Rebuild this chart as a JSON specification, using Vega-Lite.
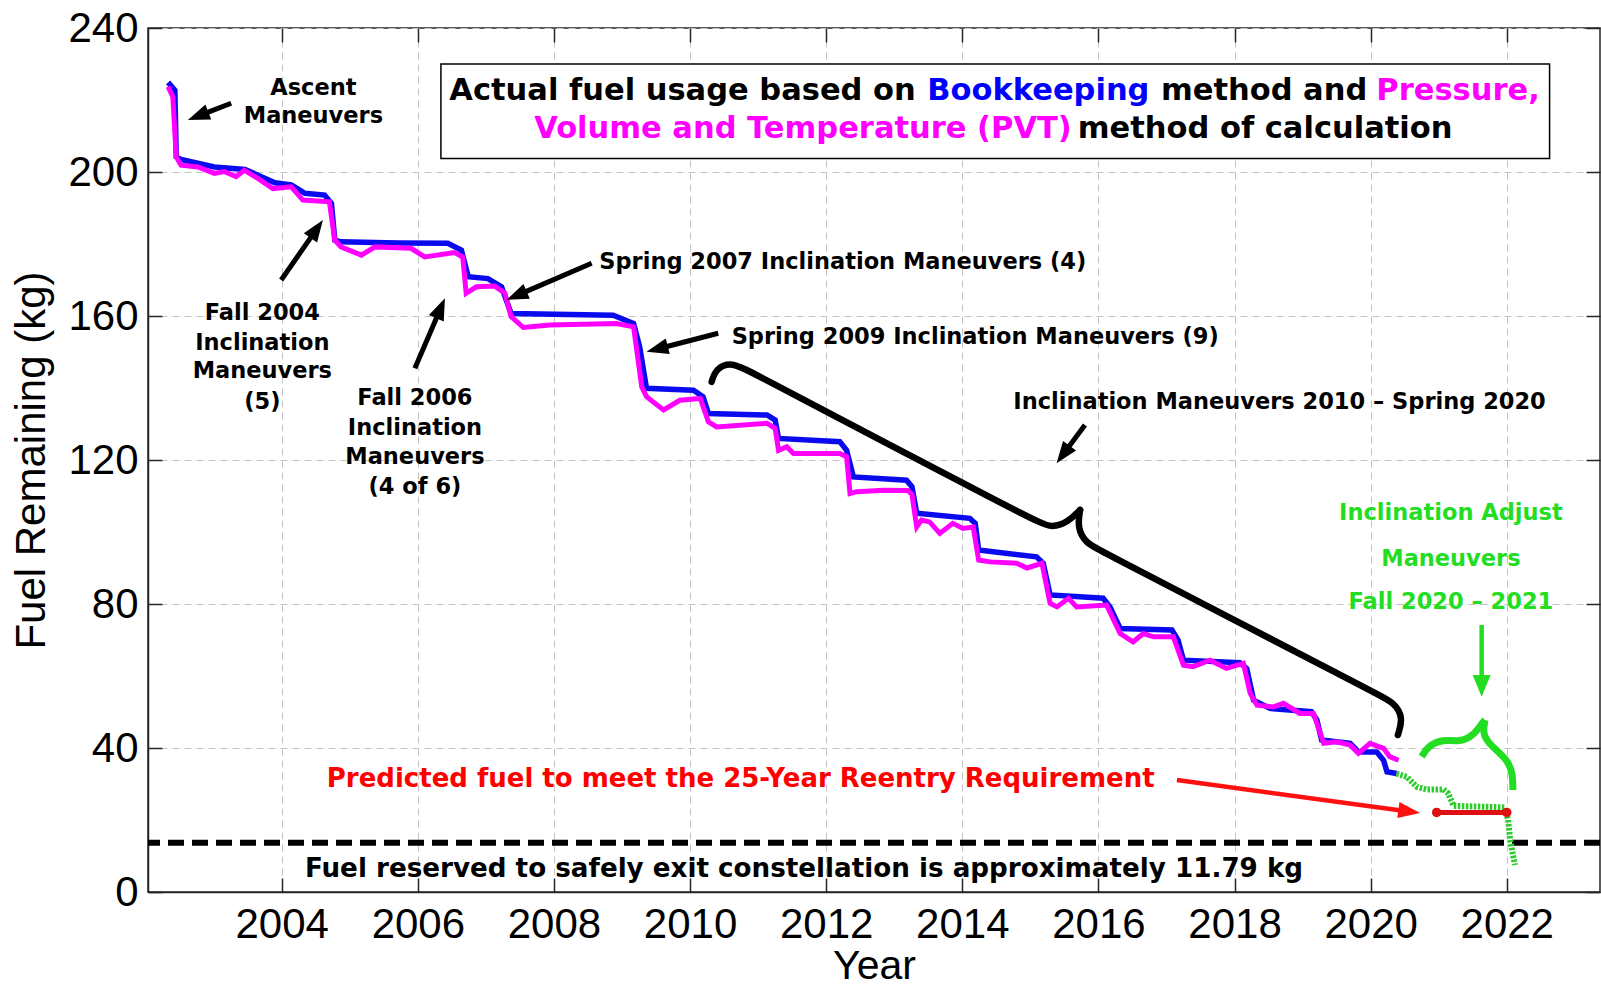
{
  "$schema": "https://vega.github.io/schema/vega-lite/v6.json",
  "width": 1452,
  "height": 864,
  "autosize": "none",
  "padding": {"left": 148, "top": 28, "right": 1, "bottom": 96},
  "background": "white",
  "datasets": {
    "bookkeeping": [
      {"year": 2002.33, "kg": 224.9}, {"year": 2002.43, "kg": 222.7}, {"year": 2002.45, "kg": 204.2}, {"year": 2002.52, "kg": 203.5},
      {"year": 2003.01, "kg": 201.4}, {"year": 2003.46, "kg": 200.7}, {"year": 2003.70, "kg": 198.7}, {"year": 2003.90, "kg": 197.0},
      {"year": 2004.14, "kg": 196.4}, {"year": 2004.34, "kg": 194.1}, {"year": 2004.63, "kg": 193.6}, {"year": 2004.73, "kg": 191.3},
      {"year": 2004.78, "kg": 181.1}, {"year": 2004.87, "kg": 180.6}, {"year": 2005.71, "kg": 180.3}, {"year": 2006.44, "kg": 180.2},
      {"year": 2006.64, "kg": 178.3}, {"year": 2006.74, "kg": 170.9}, {"year": 2007.03, "kg": 170.4}, {"year": 2007.23, "kg": 168.1},
      {"year": 2007.37, "kg": 160.7}, {"year": 2008.87, "kg": 160.2}, {"year": 2009.17, "kg": 157.9}, {"year": 2009.26, "kg": 151.4},
      {"year": 2009.36, "kg": 139.9}, {"year": 2010.05, "kg": 139.4}, {"year": 2010.19, "kg": 137.6}, {"year": 2010.27, "kg": 132.9},
      {"year": 2011.13, "kg": 132.5}, {"year": 2011.25, "kg": 131.1}, {"year": 2011.30, "kg": 126.0}, {"year": 2012.20, "kg": 125.1},
      {"year": 2012.30, "kg": 122.7}, {"year": 2012.40, "kg": 115.3}, {"year": 2013.18, "kg": 114.4}, {"year": 2013.26, "kg": 112.6},
      {"year": 2013.33, "kg": 105.2}, {"year": 2014.11, "kg": 103.8}, {"year": 2014.19, "kg": 102.4}, {"year": 2014.24, "kg": 95.0},
      {"year": 2015.09, "kg": 93.1}, {"year": 2015.19, "kg": 91.3}, {"year": 2015.29, "kg": 82.5}, {"year": 2016.07, "kg": 81.6},
      {"year": 2016.17, "kg": 79.2}, {"year": 2016.32, "kg": 73.2}, {"year": 2017.08, "kg": 72.8}, {"year": 2017.17, "kg": 70.0},
      {"year": 2017.25, "kg": 64.4}, {"year": 2018.08, "kg": 63.7}, {"year": 2018.18, "kg": 62.0}, {"year": 2018.28, "kg": 53.3},
      {"year": 2018.52, "kg": 51.0}, {"year": 2019.13, "kg": 50.1}, {"year": 2019.21, "kg": 47.8}, {"year": 2019.28, "kg": 42.2},
      {"year": 2019.70, "kg": 41.3}, {"year": 2019.82, "kg": 38.9}, {"year": 2020.09, "kg": 38.9}, {"year": 2020.19, "kg": 36.6},
      {"year": 2020.24, "kg": 33.4}, {"year": 2020.38, "kg": 32.9}
    ],
    "pvt": [
      {"year": 2002.33, "kg": 223.7}, {"year": 2002.40, "kg": 220.9}, {"year": 2002.45, "kg": 204.2}, {"year": 2002.52, "kg": 201.9},
      {"year": 2002.77, "kg": 201.4}, {"year": 2003.01, "kg": 199.6}, {"year": 2003.16, "kg": 200.1}, {"year": 2003.33, "kg": 198.7},
      {"year": 2003.45, "kg": 200.5}, {"year": 2003.65, "kg": 198.2}, {"year": 2003.87, "kg": 195.4}, {"year": 2004.14, "kg": 195.9},
      {"year": 2004.31, "kg": 192.2}, {"year": 2004.70, "kg": 191.7}, {"year": 2004.78, "kg": 181.1}, {"year": 2004.87, "kg": 179.2},
      {"year": 2005.17, "kg": 176.9}, {"year": 2005.37, "kg": 179.2}, {"year": 2005.90, "kg": 178.8}, {"year": 2006.10, "kg": 176.4},
      {"year": 2006.54, "kg": 177.6}, {"year": 2006.66, "kg": 176.4}, {"year": 2006.71, "kg": 166.3}, {"year": 2006.86, "kg": 168.1},
      {"year": 2007.13, "kg": 168.3}, {"year": 2007.28, "kg": 166.3}, {"year": 2007.37, "kg": 159.8}, {"year": 2007.55, "kg": 156.8},
      {"year": 2007.94, "kg": 157.5}, {"year": 2008.92, "kg": 157.9}, {"year": 2009.17, "kg": 157.0}, {"year": 2009.29, "kg": 140.3},
      {"year": 2009.36, "kg": 137.6}, {"year": 2009.61, "kg": 133.9}, {"year": 2009.85, "kg": 136.6}, {"year": 2010.15, "kg": 137.1},
      {"year": 2010.27, "kg": 130.6}, {"year": 2010.39, "kg": 129.2}, {"year": 2011.13, "kg": 130.2}, {"year": 2011.25, "kg": 128.8},
      {"year": 2011.30, "kg": 122.7}, {"year": 2011.42, "kg": 123.7}, {"year": 2011.52, "kg": 121.8}, {"year": 2012.20, "kg": 121.8},
      {"year": 2012.30, "kg": 120.9}, {"year": 2012.35, "kg": 110.7}, {"year": 2012.45, "kg": 111.2}, {"year": 2012.84, "kg": 111.6},
      {"year": 2013.20, "kg": 111.5}, {"year": 2013.26, "kg": 110.5}, {"year": 2013.33, "kg": 101.4}, {"year": 2013.40, "kg": 103.3},
      {"year": 2013.52, "kg": 102.8}, {"year": 2013.67, "kg": 99.6}, {"year": 2013.86, "kg": 102.4}, {"year": 2014.01, "kg": 101.0},
      {"year": 2014.16, "kg": 101.4}, {"year": 2014.24, "kg": 92.2}, {"year": 2014.41, "kg": 91.7}, {"year": 2014.80, "kg": 91.3},
      {"year": 2014.95, "kg": 90.0}, {"year": 2015.17, "kg": 91.3}, {"year": 2015.29, "kg": 80.2}, {"year": 2015.39, "kg": 79.2},
      {"year": 2015.56, "kg": 81.6}, {"year": 2015.68, "kg": 79.2}, {"year": 2016.12, "kg": 79.7}, {"year": 2016.32, "kg": 71.8},
      {"year": 2016.51, "kg": 69.5}, {"year": 2016.66, "kg": 71.8}, {"year": 2016.81, "kg": 70.9}, {"year": 2017.10, "kg": 70.9},
      {"year": 2017.25, "kg": 63.0}, {"year": 2017.39, "kg": 62.6}, {"year": 2017.64, "kg": 64.4}, {"year": 2017.88, "kg": 62.1},
      {"year": 2018.13, "kg": 63.5}, {"year": 2018.23, "kg": 55.2}, {"year": 2018.33, "kg": 51.9}, {"year": 2018.57, "kg": 51.4},
      {"year": 2018.72, "kg": 52.4}, {"year": 2018.96, "kg": 49.6}, {"year": 2019.16, "kg": 49.6}, {"year": 2019.31, "kg": 41.3},
      {"year": 2019.50, "kg": 41.7}, {"year": 2019.70, "kg": 40.8}, {"year": 2019.82, "kg": 38.5}, {"year": 2019.99, "kg": 41.3},
      {"year": 2020.19, "kg": 39.9}, {"year": 2020.28, "kg": 37.6}, {"year": 2020.41, "kg": 36.6}
    ],
    "predicted": [
      {"year": 2020.38, "kg": 32.9}, {"year": 2020.53, "kg": 32.0}, {"year": 2020.68, "kg": 29.2}, {"year": 2020.82, "kg": 28.5},
      {"year": 2021.07, "kg": 28.5}, {"year": 2021.14, "kg": 27.4}, {"year": 2021.22, "kg": 23.9}, {"year": 2021.66, "kg": 23.7},
      {"year": 2021.97, "kg": 23.5}, {"year": 2022.02, "kg": 20.0}, {"year": 2022.05, "kg": 14.4}, {"year": 2022.12, "kg": 7.5}
    ],
    "requirement": [{"year": 2020.97, "kg": 22.1}, {"year": 2022.0, "kg": 22.1}],
    "reserve": [{"kg": 13.7}],
    "brace": [
      {"part": "left", "i": 0, "year": 2010.317, "kg": 141.7},
      {"part": "left", "i": 1, "year": 2010.38, "kg": 145.5},
      {"part": "left", "i": 2, "year": 2010.616, "kg": 147.2},
      {"part": "left", "i": 3, "year": 2010.88, "kg": 144.6},
      {"part": "left", "i": 4, "year": 2015.07, "kg": 103.0},
      {"part": "left", "i": 5, "year": 2015.318, "kg": 101.1},
      {"part": "left", "i": 6, "year": 2015.553, "kg": 102.75},
      {"part": "left", "i": 7, "year": 2015.73, "kg": 106.1},
      {"part": "right", "i": 0, "year": 2015.73, "kg": 106.1},
      {"part": "right", "i": 1, "year": 2015.69, "kg": 101.1},
      {"part": "right", "i": 2, "year": 2015.82, "kg": 96.9},
      {"part": "right", "i": 3, "year": 2016.02, "kg": 94.9},
      {"part": "right", "i": 4, "year": 2020.066, "kg": 55.3},
      {"part": "right", "i": 5, "year": 2020.359, "kg": 52.5},
      {"part": "right", "i": 6, "year": 2020.477, "kg": 48.3},
      {"part": "right", "i": 7, "year": 2020.40, "kg": 43.6}
    ],
    "greenBrace": [
      {"part": "left", "i": 0, "year": 2020.75, "kg": 37.6},
      {"part": "left", "i": 1, "year": 2020.84, "kg": 40.5},
      {"part": "left", "i": 2, "year": 2021.06, "kg": 42.5},
      {"part": "left", "i": 3, "year": 2021.31, "kg": 41.6},
      {"part": "left", "i": 4, "year": 2021.52, "kg": 43.6},
      {"part": "left", "i": 5, "year": 2021.65, "kg": 47.2},
      {"part": "left", "i": 6, "year": 2021.68, "kg": 47.75},
      {"part": "right", "i": 0, "year": 2021.68, "kg": 47.75},
      {"part": "right", "i": 1, "year": 2021.64, "kg": 43.6},
      {"part": "right", "i": 2, "year": 2021.79, "kg": 40.25},
      {"part": "right", "i": 3, "year": 2022.02, "kg": 36.6},
      {"part": "right", "i": 4, "year": 2022.09, "kg": 32.5},
      {"part": "right", "i": 5, "year": 2022.09, "kg": 28.3}
    ],
    "blackArrows": [
      {"year": 2003.257, "kg": 219.09, "year2": 2002.882, "kg2": 216.37, "heading": 159.0},
      {"year": 2003.992, "kg": 170.01, "year2": 2004.446, "kg2": 182.33, "heading": -55.2},
      {"year": 2005.956, "kg": 145.48, "year2": 2006.288, "kg2": 160.09, "heading": -66.8},
      {"year": 2008.554, "kg": 174.64, "year2": 2007.560, "kg2": 166.55, "heading": 156.7},
      {"year": 2010.414, "kg": 155.21, "year2": 2009.631, "kg2": 151.40, "heading": 165.6},
      {"year": 2015.802, "kg": 129.73, "year2": 2015.551, "kg2": 123.32, "heading": 126.5}
    ],
    "redArrow": [{"year": 2017.154, "kg": 31.09, "year2": 2020.449, "kg2": 22.64, "heading": 7.7}],
    "greenArrow": [{"year": 2021.631, "kg": 74.16, "year2": 2021.631, "kg2": 59.52, "heading": 90}],
    "notesCenter": [
      {"label": "Ascent", "year": 2004.465, "kg": 223.4},
      {"label": "Maneuvers", "year": 2004.465, "kg": 215.46},
      {"label": "Fall 2004", "year": 2003.715, "kg": 160.74},
      {"label": "Inclination", "year": 2003.715, "kg": 152.6},
      {"label": "Maneuvers", "year": 2003.715, "kg": 144.82},
      {"label": "(5)", "year": 2003.715, "kg": 136.03},
      {"label": "Fall 2006", "year": 2005.957, "kg": 137.13},
      {"label": "Inclination", "year": 2005.957, "kg": 128.79},
      {"label": "Maneuvers", "year": 2005.957, "kg": 120.94},
      {"label": "(4 of 6)", "year": 2005.957, "kg": 112.6}
    ],
    "notesLeft": [
      {"label": "Spring 2007 Inclination Maneuvers (4)", "year": 2008.666, "kg": 175.09},
      {"label": "Spring 2009 Inclination Maneuvers (9)", "year": 2010.611, "kg": 154.27},
      {"label": "Inclination Maneuvers 2010 – Spring 2020", "year": 2014.749, "kg": 136.2}
    ],
    "greenNotes": [
      {"label": "Inclination Adjust", "year": 2021.179, "kg": 105.39},
      {"label": "Maneuvers", "year": 2021.179, "kg": 92.62},
      {"label": "Fall 2020 – 2021", "year": 2021.179, "kg": 80.43}
    ],
    "redNote": [{"label": "Predicted fuel to meet the 25-Year Reentry Requirement", "year": 2010.744, "kg": 31.35}],
    "reserveNote": [{"label": "Fuel reserved to safely exit constellation is approximately 11.79 kg", "year": 2011.674, "kg": 6.38}],
    "titleBox": [{"year": 2006.339, "year2": 2022.629, "kg": 229.97, "kg2": 203.78}],
    "titleBlack": [
      {"label": "Actual fuel usage based on", "year": 2009.889, "kg": 222.6},
      {"label": "method and", "year": 2018.434, "kg": 222.6},
      {"label": "method of calculation", "year": 2018.449, "kg": 211.9}
    ],
    "titleBlue": [{"label": "Bookkeeping", "year": 2015.118, "kg": 222.6}],
    "titleMagenta": [
      {"label": "Pressure,", "year": 2021.284, "kg": 222.6},
      {"label": "Volume and Temperature (PVT)", "year": 2011.659, "kg": 211.9}
    ]
  },
  "layer": [
    {
      "layer": [
        {
          "data": {"name": "reserve"},
          "mark": {"type": "rule", "color": "#000000", "strokeWidth": 6, "strokeDash": [16, 8]},
          "encoding": {
            "y": {
              "field": "kg", "type": "quantitative",
              "scale": {"domain": [0, 240], "nice": false, "zero": false},
              "axis": {"values": [0, 40, 80, 120, 160, 200, 240], "title": "Fuel Remaining (kg)", "labelFontSize": 42, "titleFontSize": 42, "labelPadding": 24, "titlePadding": 14, "labelFlush": false, "grid": true}
            }
          }
        },
        {
          "data": {"name": "bookkeeping"},
          "mark": {"type": "line", "color": "#0a0aee", "strokeWidth": 5.5},
          "encoding": {
            "x": {
              "field": "year", "type": "quantitative",
              "scale": {"domain": [2002.035, 2023.37], "nice": false, "zero": false},
              "axis": {"values": [2004, 2006, 2008, 2010, 2012, 2014, 2016, 2018, 2020, 2022], "format": "d", "title": "Year", "labelFontSize": 42, "titleFontSize": 41, "labelPadding": 26, "titlePadding": 1, "labelFlush": false, "labelOverlap": false, "grid": true}
            },
            "y": {"field": "kg", "type": "quantitative"}
          }
        },
        {
          "data": {"name": "pvt"},
          "mark": {"type": "line", "color": "#ff00ff", "strokeWidth": 5},
          "encoding": {"x": {"field": "year", "type": "quantitative"}, "y": {"field": "kg", "type": "quantitative"}}
        },
        {
          "data": {"name": "predicted"},
          "mark": {"type": "line", "color": "#2ccc2c", "strokeWidth": 6, "strokeDash": [2.5, 1.5]},
          "encoding": {"x": {"field": "year", "type": "quantitative"}, "y": {"field": "kg", "type": "quantitative"}}
        },
        {
          "data": {"name": "requirement"},
          "mark": {"type": "line", "color": "#dd1111", "strokeWidth": 5, "point": {"filled": true, "color": "#dd1111", "size": 90}},
          "encoding": {"x": {"field": "year", "type": "quantitative"}, "y": {"field": "kg", "type": "quantitative"}}
        },
        {
          "data": {"name": "brace"},
          "mark": {"type": "line", "color": "#000000", "strokeWidth": 6.5, "interpolate": "basis", "strokeCap": "round"},
          "encoding": {
            "x": {"field": "year", "type": "quantitative"},
            "y": {"field": "kg", "type": "quantitative"},
            "detail": {"field": "part"},
            "order": {"field": "i", "type": "quantitative"}
          }
        },
        {
          "data": {"name": "greenBrace"},
          "mark": {"type": "line", "color": "#22dd22", "strokeWidth": 7, "interpolate": "basis", "strokeCap": "butt"},
          "encoding": {
            "x": {"field": "year", "type": "quantitative"},
            "y": {"field": "kg", "type": "quantitative"},
            "detail": {"field": "part"},
            "order": {"field": "i", "type": "quantitative"}
          }
        },
        {
          "data": {"name": "blackArrows"},
          "mark": {"type": "rule", "color": "#000000", "strokeWidth": 5},
          "encoding": {
            "x": {"field": "year", "type": "quantitative"}, "y": {"field": "kg", "type": "quantitative"},
            "x2": {"field": "year2"}, "y2": {"field": "kg2"}
          }
        },
        {
          "data": {"name": "blackArrows"},
          "mark": {"type": "point", "shape": "M 2 0 L -0.3 -0.85 L -0.3 0.85 Z", "filled": true, "color": "#000000", "opacity": 1, "size": 361, "strokeWidth": 0},
          "encoding": {
            "x": {"field": "year2", "type": "quantitative"}, "y": {"field": "kg2", "type": "quantitative"},
            "angle": {"field": "heading", "type": "quantitative", "scale": null}
          }
        },
        {
          "data": {"name": "redArrow"},
          "mark": {"type": "rule", "color": "#ff1010", "strokeWidth": 4.5},
          "encoding": {
            "x": {"field": "year", "type": "quantitative"}, "y": {"field": "kg", "type": "quantitative"},
            "x2": {"field": "year2"}, "y2": {"field": "kg2"}
          }
        },
        {
          "data": {"name": "redArrow"},
          "mark": {"type": "point", "shape": "M 2 0 L -0.3 -0.85 L -0.3 0.85 Z", "filled": true, "color": "#ff1010", "opacity": 1, "size": 361, "strokeWidth": 0},
          "encoding": {
            "x": {"field": "year2", "type": "quantitative"}, "y": {"field": "kg2", "type": "quantitative"},
            "angle": {"field": "heading", "type": "quantitative", "scale": null}
          }
        },
        {
          "data": {"name": "greenArrow"},
          "mark": {"type": "rule", "color": "#22dd22", "strokeWidth": 4.5},
          "encoding": {
            "x": {"field": "year", "type": "quantitative"}, "y": {"field": "kg", "type": "quantitative"},
            "x2": {"field": "year2"}, "y2": {"field": "kg2"}
          }
        },
        {
          "data": {"name": "greenArrow"},
          "mark": {"type": "point", "shape": "M 2 0 L -0.3 -0.95 L -0.3 0.95 Z", "filled": true, "color": "#22dd22", "opacity": 1, "size": 361, "strokeWidth": 0},
          "encoding": {
            "x": {"field": "year2", "type": "quantitative"}, "y": {"field": "kg2", "type": "quantitative"},
            "angle": {"field": "heading", "type": "quantitative", "scale": null}
          }
        },
        {
          "data": {"name": "notesCenter"},
          "mark": {"type": "text", "font": "DejaVu Sans", "fontWeight": "bold", "fontSize": 22.5, "align": "center", "baseline": "middle", "color": "#000000"},
          "encoding": {"x": {"field": "year", "type": "quantitative"}, "y": {"field": "kg", "type": "quantitative"}, "text": {"field": "label"}}
        },
        {
          "data": {"name": "notesLeft"},
          "mark": {"type": "text", "font": "DejaVu Sans", "fontWeight": "bold", "fontSize": 22.5, "align": "left", "baseline": "middle", "color": "#000000"},
          "encoding": {"x": {"field": "year", "type": "quantitative"}, "y": {"field": "kg", "type": "quantitative"}, "text": {"field": "label"}}
        },
        {
          "data": {"name": "greenNotes"},
          "mark": {"type": "text", "font": "DejaVu Sans", "fontWeight": "bold", "fontSize": 22.5, "align": "center", "baseline": "middle", "color": "#22dd22"},
          "encoding": {"x": {"field": "year", "type": "quantitative"}, "y": {"field": "kg", "type": "quantitative"}, "text": {"field": "label"}}
        },
        {
          "data": {"name": "redNote"},
          "mark": {"type": "text", "font": "DejaVu Sans", "fontWeight": "bold", "fontSize": 26, "align": "center", "baseline": "middle", "color": "#ff0000"},
          "encoding": {"x": {"field": "year", "type": "quantitative"}, "y": {"field": "kg", "type": "quantitative"}, "text": {"field": "label"}}
        },
        {
          "data": {"name": "reserveNote"},
          "mark": {"type": "text", "font": "DejaVu Sans", "fontWeight": "bold", "fontSize": 26.2, "align": "center", "baseline": "middle", "color": "#000000"},
          "encoding": {"x": {"field": "year", "type": "quantitative"}, "y": {"field": "kg", "type": "quantitative"}, "text": {"field": "label"}}
        },
        {
          "data": {"name": "titleBox"},
          "mark": {"type": "rect", "fill": "#ffffff", "stroke": "#000000", "strokeWidth": 1.5},
          "encoding": {
            "x": {"field": "year", "type": "quantitative"}, "x2": {"field": "year2"},
            "y": {"field": "kg", "type": "quantitative"}, "y2": {"field": "kg2"}
          }
        },
        {
          "data": {"name": "titleBlack"},
          "mark": {"type": "text", "font": "DejaVu Sans", "fontWeight": "bold", "fontSize": 30.5, "align": "center", "baseline": "middle", "color": "#000000"},
          "encoding": {"x": {"field": "year", "type": "quantitative"}, "y": {"field": "kg", "type": "quantitative"}, "text": {"field": "label"}}
        },
        {
          "data": {"name": "titleBlue"},
          "mark": {"type": "text", "font": "DejaVu Sans", "fontWeight": "bold", "fontSize": 30.5, "align": "center", "baseline": "middle", "color": "#0000ff"},
          "encoding": {"x": {"field": "year", "type": "quantitative"}, "y": {"field": "kg", "type": "quantitative"}, "text": {"field": "label"}}
        },
        {
          "data": {"name": "titleMagenta"},
          "mark": {"type": "text", "font": "DejaVu Sans", "fontWeight": "bold", "fontSize": 30.5, "align": "center", "baseline": "middle", "color": "#ff00ff"},
          "encoding": {"x": {"field": "year", "type": "quantitative"}, "y": {"field": "kg", "type": "quantitative"}, "text": {"field": "label"}}
        }
      ]
    },
    {
      "data": {"name": "requirement"},
      "mark": {"type": "point", "opacity": 0},
      "encoding": {
        "x": {
          "field": "year", "type": "quantitative",
          "scale": {"domain": [2002.035, 2023.37], "nice": false, "zero": false},
          "axis": {"orient": "top", "values": [2004, 2006, 2008, 2010, 2012, 2014, 2016, 2018, 2020, 2022], "labels": false, "domain": false, "grid": false, "title": null}
        },
        "y": {
          "field": "kg", "type": "quantitative",
          "scale": {"domain": [0, 240], "nice": false, "zero": false},
          "axis": {"orient": "right", "values": [0, 40, 80, 120, 160, 200, 240], "labels": false, "domain": false, "grid": false, "title": null}
        }
      }
    }
  ],
  "resolve": {"axis": {"x": "independent", "y": "independent"}},
  "config": {
    "view": {"stroke": "#262626", "strokeWidth": 1.5},
    "axis": {
      "labelFont": "Liberation Sans", "titleFont": "Liberation Sans", "labelColor": "#000000", "titleColor": "#000000",
      "titleFontWeight": "normal", "domainColor": "#262626", "domainWidth": 1.5, "tickColor": "#262626", "tickWidth": 1.5,
      "tickSize": -14, "gridColor": "#c4c4c4", "gridDash": [7, 5], "gridWidth": 1
    }
  }
}
